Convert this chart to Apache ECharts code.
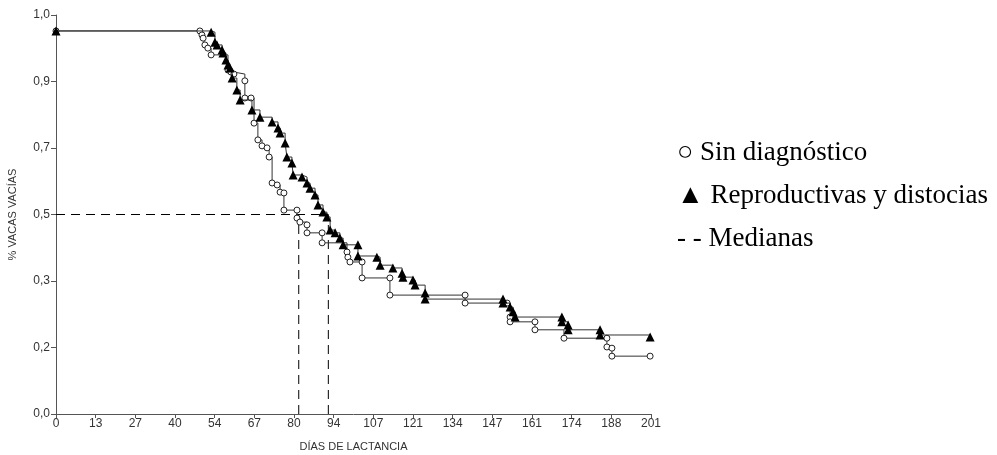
<!DOCTYPE html>
<html>
<head>
<meta charset="utf-8">
<script src="https://cdn.jsdelivr.net/npm/echarts@6/dist/echarts.min.js"></script>
<style>
  html, body { margin: 0; padding: 0; background: #fff; }
  #chart { width: 997px; height: 455px; }
</style>
</head>
<body>
<div id="chart"></div>
<script>
// Kaplan-Meier curves: [days, proportion of open cows]
const sinDiagnostico = [
  [0, 0.960], [48.6, 0.960], [49.3, 0.950], [49.7, 0.942], [50.3, 0.925], [51.3, 0.917],
  [52.4, 0.900], [58.1, 0.862], [59.1, 0.857], [60.1, 0.852], [63.8, 0.835], [63.8, 0.792],
  [65.9, 0.792], [66.9, 0.729], [68.2, 0.687], [69.6, 0.672], [71.3, 0.667], [72.0, 0.644],
  [73.0, 0.579], [74.7, 0.574], [75.7, 0.556], [77.0, 0.554], [77.0, 0.511], [81.4, 0.511],
  [81.4, 0.491], [82.4, 0.481], [84.8, 0.474], [84.8, 0.454], [89.9, 0.454], [89.9, 0.429],
  [98.3, 0.406], [98.6, 0.393], [99.3, 0.381], [103.4, 0.381], [103.4, 0.341], [112.8, 0.341],
  [112.8, 0.298], [138.2, 0.298], [138.2, 0.278], [152.4, 0.278], [153.4, 0.243], [153.4, 0.231],
  [161.8, 0.231], [161.8, 0.211], [171.6, 0.190], [186.1, 0.190], [186.1, 0.168], [187.8, 0.165],
  [187.8, 0.145], [200.7, 0.145]
];

const reproductivas = [
  [0, 0.960], [52.4, 0.957], [53.7, 0.932], [54.4, 0.925], [56.1, 0.912], [56.4, 0.905],
  [57.4, 0.887], [58.1, 0.875], [58.8, 0.867], [59.5, 0.842], [61.1, 0.812], [62.2, 0.787],
  [66.2, 0.762], [68.9, 0.744], [73.0, 0.732], [75.0, 0.717], [75.7, 0.704], [77.4, 0.679],
  [78.0, 0.644], [79.7, 0.629], [80.1, 0.599], [83.1, 0.594], [84.8, 0.579], [85.8, 0.566],
  [87.5, 0.549], [88.5, 0.524], [90.2, 0.506], [91.5, 0.494], [92.6, 0.461], [94.3, 0.454],
  [95.9, 0.441], [97.0, 0.424], [102.0, 0.424], [102.0, 0.396], [108.4, 0.393], [109.5, 0.373],
  [113.8, 0.366], [116.9, 0.353], [117.2, 0.343], [120.6, 0.336], [121.3, 0.323], [124.7, 0.303],
  [124.7, 0.288], [151.0, 0.288], [151.0, 0.278], [153.4, 0.268], [154.4, 0.256], [155.1, 0.243],
  [170.9, 0.243], [170.9, 0.231], [173.0, 0.223], [173.0, 0.211], [183.8, 0.211], [183.8, 0.198],
  [200.7, 0.193]
];

// Median survival times (days) at proportion 0.5
const medianLevel = 0.5;
const medianSinDiagnostico = 82;
const medianReproductivas = 92;

// Axis tick labels
const xTickLabels = ['0', '13', '27', '40', '54', '67', '80', '94', '107', '121', '134', '147', '161', '174', '188', '201'];
const yTickLabels = ['0,0', '0,2', '0,3', '0,5', '0,7', '0,9', '1,0'];

const legendLines = ['○ Sin diagnóstico', '▲ Reproductivas y distocias', '- - Medianas'];

const axisColor = '#555';
const textColor = '#333';
const lineColor = '#333';
const dash = [9, 6];

const chart = echarts.init(document.getElementById('chart'), null, { renderer: 'canvas' });

const xStep = 201 / 15;

chart.setOption({
  animation: false,
  backgroundColor: '#fff',
  grid: { left: 56, right: 346, top: 15, bottom: 41, outerBoundsMode: 'none', containLabel: false },
  xAxis: {
    type: 'value',
    min: 0,
    max: 201,
    interval: xStep,
    name: 'DÍAS DE LACTANCIA',
    nameLocation: 'middle',
    nameGap: 27,
    nameTextStyle: { fontFamily: 'Liberation Sans', fontSize: 11, color: textColor },
    axisLine: { show: true, lineStyle: { color: axisColor, width: 1 } },
    axisTick: { show: true, length: 4, lineStyle: { color: axisColor } },
    axisLabel: {
      fontFamily: 'Liberation Sans', fontSize: 12, color: textColor, margin: 4,
      formatter: v => xTickLabels[Math.round(v / xStep)]
    },
    splitLine: { show: false }
  },
  yAxis: {
    type: 'value',
    min: 0,
    max: 1,
    interval: 1 / 6,
    name: '% VACAS VACÍAS',
    nameLocation: 'middle',
    nameGap: 38,
    nameRotate: 90,
    nameTextStyle: { fontFamily: 'Liberation Sans', fontSize: 11, color: textColor },
    axisLine: { show: true, lineStyle: { color: axisColor, width: 1 } },
    axisTick: { show: true, length: 5, lineStyle: { color: axisColor } },
    axisLabel: {
      fontFamily: 'Liberation Sans', fontSize: 12, color: textColor, margin: 6,
      formatter: v => yTickLabels[Math.round(v * 6)]
    },
    splitLine: { show: false }
  },
  series: [
    {
      name: 'Medianas',
      type: 'line',
      data: [[0, medianLevel], [medianReproductivas, medianLevel]],
      symbol: 'none',
      lineStyle: { color: '#000', width: 1, type: dash },
      z: 1
    },
    {
      name: 'Mediana sin diagnóstico',
      type: 'line',
      data: [[medianSinDiagnostico, 0], [medianSinDiagnostico, medianLevel]],
      symbol: 'none',
      lineStyle: { color: '#000', width: 1, type: dash },
      z: 1
    },
    {
      name: 'Mediana reproductivas',
      type: 'line',
      data: [[medianReproductivas, 0], [medianReproductivas, medianLevel]],
      symbol: 'none',
      lineStyle: { color: '#000', width: 1, type: dash },
      z: 1
    },
    {
      name: 'Sin diagnóstico',
      type: 'line',
      step: 'end',
      data: sinDiagnostico,
      symbol: 'circle',
      symbolSize: 6,
      showAllSymbol: true,
      itemStyle: { color: '#fff', borderColor: '#222', borderWidth: 1 },
      lineStyle: { color: lineColor, width: 1 },
      z: 2
    },
    {
      name: 'Reproductivas y distocias',
      type: 'line',
      step: 'end',
      data: reproductivas,
      symbol: 'triangle',
      symbolSize: 9,
      showAllSymbol: true,
      itemStyle: { color: '#000', borderColor: '#000', borderWidth: 0 },
      lineStyle: { color: lineColor, width: 1 },
      z: 3
    }
  ],
  graphic: legendLines.map((t, i) => ({
    type: 'text',
    left: 677,
    top: 139 + i * 43,
    style: {
      text: t,
      font: '27px "Liberation Serif"',
      fill: '#000'
    }
  }))
});
</script>
</body>
</html>
